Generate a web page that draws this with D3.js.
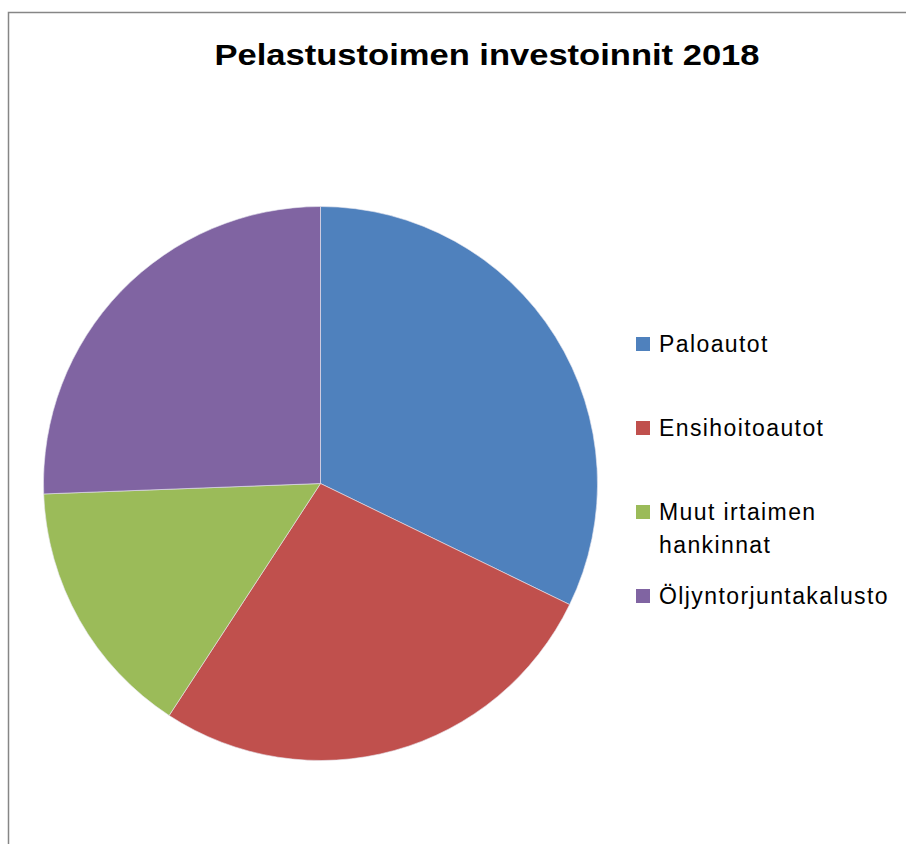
<!DOCTYPE html>
<html>
<head>
<meta charset="utf-8">
<style>
  body { margin: 0; background: #fff; }
  svg { display: block; font-family: "Liberation Sans", Arial, sans-serif; }
</style>
</head>
<body>
<div id="pie"></div>
<script src="https://d3js.org/d3.v7.min.js"></script>
<script>
// data (share of investments, %)
var categories = ["Paloautot", "Ensihoitoautot", "Muut irtaimen hankinnat", "Öljyntorjuntakalusto"];
var values = [32.2, 27.0, 15.2, 25.6];
var colors = ["#4f81bd", "#c0504d", "#9bbb59", "#8064a2"];
var legendLines = [["Paloautot"], ["Ensihoitoautot"], ["Muut irtaimen", "hankinnat"], ["Öljyntorjuntakalusto"]];
var title = "Pelastustoimen investoinnit 2018";

var width = 906, height = 844;
var cx = 320.5, cy = 483.5, radius = 277;

var svg = d3.select("#pie").append("svg")
    .attr("width", width)
    .attr("height", height);

// chart frame
svg.append("rect")
    .attr("x", 8.5)
    .attr("y", 12.5)
    .attr("width", 1000)
    .attr("height", 1000)
    .attr("fill", "none")
    .attr("stroke", "#868686")
    .attr("stroke-width", 1.5);

svg.append("text")
    .attr("x", 487)
    .attr("y", 65)
    .attr("text-anchor", "middle")
    .attr("font-weight", "bold")
    .attr("font-size", 30)
    .attr("textLength", 545)
    .attr("lengthAdjust", "spacingAndGlyphs")
    .text(title);

var color = d3.scaleOrdinal().domain(categories).range(colors);

var pie = d3.pie().sort(null).value(function(d) { return d.value; });
var arc = d3.arc().innerRadius(0).outerRadius(radius);

var data = categories.map(function(c, i) { return {name: c, value: values[i]}; });

var g = svg.append("g").attr("transform", "translate(" + cx + "," + cy + ")");

g.selectAll("path")
    .data(pie(data))
    .enter().append("path")
      .attr("d", arc)
      .attr("fill", function(d) { return color(d.data.name); })
      .attr("stroke", "#e8e8f0")
      .attr("stroke-width", 0.6);

// legend
var rowY = [352, 436, 520, 604];
var legend = svg.append("g")
    .selectAll("g")
    .data(categories)
    .enter().append("g")
      .attr("transform", function(d, i) { return "translate(636," + rowY[i] + ")"; });

legend.append("rect")
    .attr("x", 0)
    .attr("y", -15)
    .attr("width", 14)
    .attr("height", 14)
    .attr("fill", color);

legend.each(function(d, i) {
  var t = d3.select(this).append("text")
      .attr("x", 23)
      .attr("y", 0)
      .attr("font-size", 23)
      .attr("letter-spacing", 1.4)
      .attr("fill", "#000");
  legendLines[i].forEach(function(line, j) {
    t.append("tspan")
      .attr("x", 23)
      .attr("dy", j === 0 ? 0 : 33)
      .text(line);
  });
});
</script>
</body>
</html>
